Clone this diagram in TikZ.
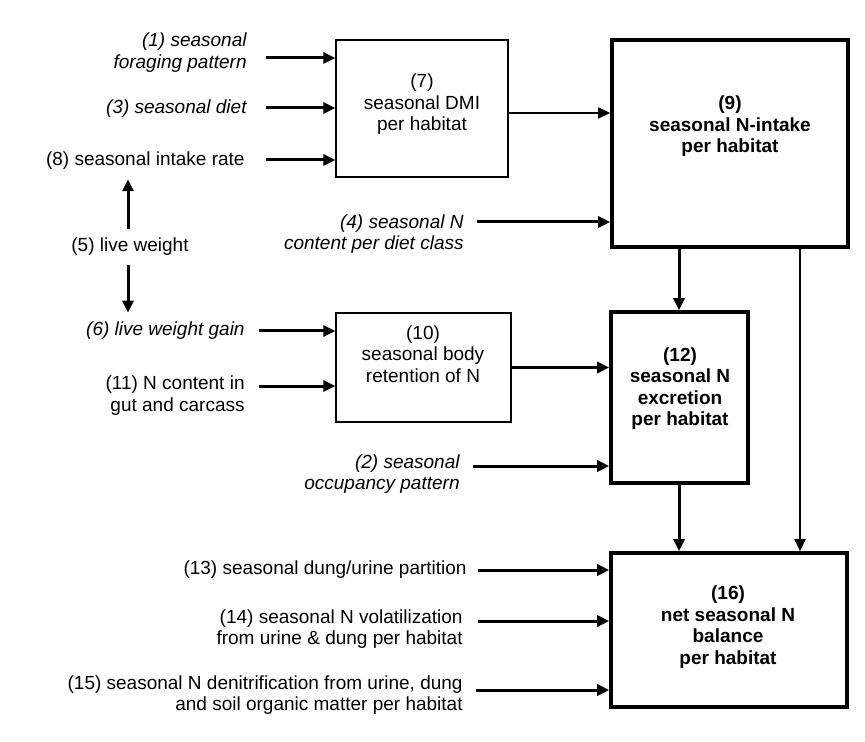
\documentclass[tikz,border=0pt]{standalone}
\usepackage{fontspec}
\setmainfont{Liberation Sans}
\usetikzlibrary{arrows.meta}

\tikzset{
	txt/.style={inner sep=0pt, align=right, anchor=east, font=\fontsize{9.5}{10.75}\selectfont},
	itxt/.style={txt, font=\fontsize{9.5}{10.75}\selectfont\itshape},
	boxtxt/.style={inner sep=0pt, align=center, font=\fontsize{9.5}{10.75}\selectfont},
	thinbox/.style={draw, line width=0.7pt, inner sep=0pt},
	thickbox/.style={draw, line width=1.8pt, inner sep=0pt},
	arr/.style={->, line width=1.5pt},
	thinarr/.style={->, line width=0.8pt}
}

\begin{document}
\begin{tikzpicture}[x=0.5pt, y=-0.5pt, >={Triangle[length=6pt, width=5.5pt]}]
	\useasboundingbox (0,0) rectangle (865,742);

	% draw the boxes
	\node[thinbox, minimum width=86pt, minimum height=68.5pt] (b7) at (422,108.5) {};
	\node[thickbox, minimum width=118pt, minimum height=103.5pt] (b9) at (730,143.5) {};
	\node[thinbox, minimum width=87.5pt, minimum height=54.5pt] (b10) at (423.5,367.5) {};
	\node[thickbox, minimum width=68.5pt, minimum height=85.5pt] (b12) at (679.5,397.5) {};
	\node[thickbox, minimum width=118pt, minimum height=77pt] (b16) at (729,630) {};

	% the texts in the boxes
	\node[boxtxt] (t7) at (422,104.5) {(7)\\seasonal DMI\\per habitat};
	\node[boxtxt, font=\fontsize{9.5}{10.75}\selectfont\bfseries] (t9) at (730,126.5) {(9)\\seasonal N-intake\\per habitat};
	\node[boxtxt] (t10) at (423,354) {(10)\\seasonal body\\retention of N};
	\node[boxtxt, font=\fontsize{9.5}{10.75}\selectfont\bfseries] (t12) at (680,388.5) {(12)\\seasonal N\\excretion\\per habitat};
	\node[boxtxt, font=\fontsize{9.5}{10.75}\selectfont\bfseries] (t16) at (728,627) {(16)\\net seasonal N\\balance\\per habitat};

	% the inputs on the left
	\node[itxt] (t1) at (247,52.5) {(1) seasonal\\foraging pattern};
	\node[itxt] (t3) at (247,109) {(3) seasonal diet};
	\node[txt] (t8) at (245,161) {(8) seasonal intake rate};
	\node[txt, anchor=center] (t5) at (130,247) {(5) live weight};
	\node[itxt] (t6) at (245,331) {(6) live weight gain};
	\node[txt] (t11) at (245,395.5) {(11) N content in\\gut and carcass};
	\node[itxt] (t4) at (464,234) {(4) seasonal N\\content per diet class};
	\node[itxt] (t2) at (460,474) {(2) seasonal\\occupancy pattern};
	\node[txt] (t13) at (467,570) {(13) seasonal dung/urine partition};
	\node[txt] (t14) at (463,629) {(14) seasonal N volatilization\\from urine \& dung per habitat};
	\node[txt] (t15) at (463,695) {(15) seasonal N denitrification from urine, dung\\and soil organic matter per habitat};

	% start points of the input arrows
	\coordinate (a1) at (266,58);
	\coordinate (a3) at (266,108);
	\coordinate (a8) at (266,160);
	\coordinate (a6) at (259,331);
	\coordinate (a11) at (259,386);
	\coordinate (a4) at (477,222);
	\coordinate (a2) at (473,466);
	\coordinate (a13) at (478,570);
	\coordinate (a14) at (478,621);
	\coordinate (a15) at (476,690);
	\coordinate (v1) at (679,0);
	\coordinate (v2) at (800,0);

	% draw the input arrows
	\foreach \a/\b in {a1/b7, a3/b7, a8/b7, a6/b10, a11/b10, a4/b9, a2/b12, a13/b16, a14/b16, a15/b16}
		\draw[arr] (\a) -- (\a -| \b.west);

	% live weight arrows
	\draw[arr, shorten <=4.5pt, shorten >=4.5pt] ([xshift=-1pt]t5.north) -- ([xshift=-1pt]t5.north |- t8.south);
	\draw[arr, shorten <=4.5pt, shorten >=4.5pt] ([xshift=-1pt]t5.south) -- ([xshift=-1pt]t5.south |- t6.north);

	% draw the arrows between the boxes
	\draw[thinarr] ([yshift=-2.25pt]b7.east) -- ([yshift=-2.25pt]b7.east -| b9.west);
	\draw[arr] (b10.east) -- (b10.east -| b12.west);
	\draw[arr] (v1 |- b9.south) -- (v1 |- b12.north);
	\draw[arr] (v1 |- b12.south) -- (v1 |- b16.north);
	\draw[thinarr, line width=1pt] (v2 |- b9.south) -- (v2 |- b16.north);
\end{tikzpicture}
\end{document}
